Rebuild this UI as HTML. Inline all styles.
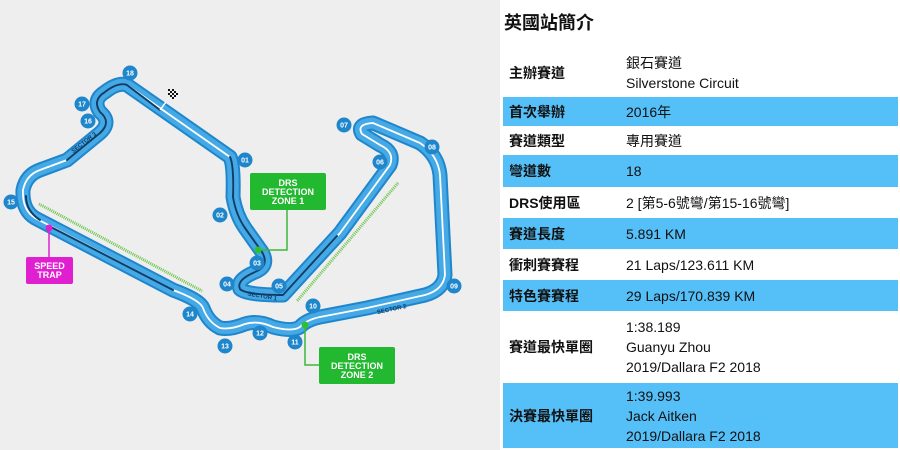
<!DOCTYPE html>
<html><head><meta charset="utf-8"><style>
body{margin:0;width:900px;height:450px;overflow:hidden;background:#fff;font-family:"Liberation Sans","Noto Sans CJK TC",sans-serif;position:relative}
#left{position:absolute;left:0;top:0;width:500px;height:450px;background:#eeeeee}
h1{position:absolute;left:504px;top:9px;margin:0;font-size:18px;font-weight:bold;color:#111}
table{position:absolute;left:503px;top:48px;width:395px;border-collapse:collapse;font-size:14px;color:#111}
td{padding:0;vertical-align:middle;line-height:20px}
td.l{width:117px;padding-left:6px;font-weight:bold}
tr.b{background:#55bff8}
</style></head><body>
<div id="left"></div>
<svg style="position:absolute;left:0;top:0" width="500" height="450">
<defs>
<path id="t" d="M127,85 L230,157 Q234,165 233,197 Q236,215 245,228 L262,252 Q270,266 255,272 Q236,280 240,289 Q246,295 283,295 L340,233 L390,165 Q395,152 380,145 L362,134 Q356,124 373,123 L420,143 Q438,155 440,175 L445,275 Q443,290 425,295 L367,308 L320,317 Q306,320 300,327 Q292,332 273,327 Q258,320 245,324 Q230,330 220,328 Q208,322 203,308 Q200,300 173,290 L35,218 Q22,210 23,190 Q26,175 40,170 L67,160 L100,133 Q112,122 100,112 Q92,100 105,92 Q118,82 127,85 Z"/>
</defs>
<g fill="none" stroke-linejoin="round" stroke-linecap="round">
<use href="#t" stroke="#1f86cc" stroke-width="15"/>
<use href="#t" stroke="#45a9e6" stroke-width="11"/>
<use href="#t" stroke="#ffffff" stroke-width="1.8"/>
<path d="M160,110 L127,85 Q118,82 105,92 Q92,100 100,112 Q112,122 100,133 L67,160" stroke="#0d3f6b" stroke-width="2"/>
<path d="M49,226 L173,290 M230,157 Q234,165 233,197 Q236,215 245,228 L262,252 Q270,266 255,272 Q236,280 240,289 Q246,295 283,295 L337,236" stroke="#0d3f6b" stroke-width="2"/>
<path d="M26,196 Q26,211 40,220" stroke="#0d3f6b" stroke-width="2"/>
</g>
<line x1="39" y1="204" x2="202" y2="291" stroke="#6cc64a" stroke-width="3" stroke-dasharray="1 1"/>
<line x1="398" y1="183" x2="297" y2="301" stroke="#6cc64a" stroke-width="3" stroke-dasharray="1 1"/>
<path d="M287,210 V250 H258" fill="none" stroke="#3cb93c" stroke-width="1.5"/>
<path d="M305,325 V365 H319" fill="none" stroke="#3cb93c" stroke-width="1.5"/>
<path d="M49,228 V257" stroke="#e020d0" stroke-width="1.5"/>
<circle cx="258" cy="250" r="3.5" fill="#2fc02f"/>
<circle cx="305" cy="325" r="3.5" fill="#2fc02f"/>
<circle cx="49" cy="228" r="3.5" fill="#e020d0"/>
<rect x="250" y="173" width="76" height="37" rx="2" fill="#22b830"/>
<text x="288" y="186" font-size="9" font-weight="bold" fill="#fff" text-anchor="middle" font-family="Liberation Sans">DRS</text>
<text x="288" y="195" font-size="9" font-weight="bold" fill="#fff" text-anchor="middle" font-family="Liberation Sans">DETECTION</text>
<text x="288" y="204" font-size="9" font-weight="bold" fill="#fff" text-anchor="middle" font-family="Liberation Sans">ZONE 1</text>
<rect x="319" y="347" width="76" height="37" rx="2" fill="#22b830"/>
<text x="357" y="360" font-size="9" font-weight="bold" fill="#fff" text-anchor="middle" font-family="Liberation Sans">DRS</text>
<text x="357" y="369" font-size="9" font-weight="bold" fill="#fff" text-anchor="middle" font-family="Liberation Sans">DETECTION</text>
<text x="357" y="378" font-size="9" font-weight="bold" fill="#fff" text-anchor="middle" font-family="Liberation Sans">ZONE 2</text>
<rect x="26" y="257" width="47" height="27" rx="2" fill="#e020d0"/>
<text x="49.5" y="269" font-size="9" font-weight="bold" fill="#fff" text-anchor="middle" font-family="Liberation Sans">SPEED</text>
<text x="49.5" y="278" font-size="9" font-weight="bold" fill="#fff" text-anchor="middle" font-family="Liberation Sans">TRAP</text>
<line x1="160" y1="110" x2="166" y2="102" stroke="#fff" stroke-width="1.5"/>
<g fill="#111"><rect x="168" y="89" width="2" height="2"/><rect x="172" y="89" width="2" height="2"/><rect x="170" y="91" width="2" height="2"/><rect x="174" y="91" width="2" height="2"/><rect x="168" y="93" width="2" height="2"/><rect x="172" y="93" width="2" height="2"/><rect x="176" y="93" width="2" height="2"/><rect x="170" y="95" width="2" height="2"/><rect x="174" y="95" width="2" height="2"/><rect x="172" y="97" width="2" height="2"/></g>
<g font-size="6" font-weight="bold" fill="#0d3f6b" font-family="Liberation Sans" text-anchor="middle">
<text transform="translate(85,144) rotate(-38)">SECTOR 3</text>
<text transform="translate(262,298) rotate(10)">SECTOR 1</text>
<text transform="translate(392,311) rotate(-12)">SECTOR 2</text>
</g>
<g font-size="7" font-weight="bold" fill="#fff" font-family="Liberation Sans" text-anchor="middle">
<g><circle cx="130" cy="73" r="7.5" fill="#1f86cc"/><text x="130" y="75.5">18</text></g>
<g><circle cx="82" cy="104" r="7.5" fill="#1f86cc"/><text x="82" y="106.5">17</text></g>
<g><circle cx="88" cy="121" r="7.5" fill="#1f86cc"/><text x="88" y="123.5">16</text></g>
<g><circle cx="11" cy="202" r="7.5" fill="#1f86cc"/><text x="11" y="204.5">15</text></g>
<g><circle cx="245" cy="160" r="7.5" fill="#1f86cc"/><text x="245" y="162.5">01</text></g>
<g><circle cx="220" cy="215" r="7.5" fill="#1f86cc"/><text x="220" y="217.5">02</text></g>
<g><circle cx="257" cy="263" r="7.5" fill="#1f86cc"/><text x="257" y="265.5">03</text></g>
<g><circle cx="227" cy="284" r="7.5" fill="#1f86cc"/><text x="227" y="286.5">04</text></g>
<g><circle cx="279" cy="286" r="7.5" fill="#1f86cc"/><text x="279" y="288.5">05</text></g>
<g><circle cx="380" cy="162" r="7.5" fill="#1f86cc"/><text x="380" y="164.5">06</text></g>
<g><circle cx="344" cy="125" r="7.5" fill="#1f86cc"/><text x="344" y="127.5">07</text></g>
<g><circle cx="432" cy="147" r="7.5" fill="#1f86cc"/><text x="432" y="149.5">08</text></g>
<g><circle cx="454" cy="286" r="7.5" fill="#1f86cc"/><text x="454" y="288.5">09</text></g>
<g><circle cx="313" cy="306" r="7.5" fill="#1f86cc"/><text x="313" y="308.5">10</text></g>
<g><circle cx="295" cy="342" r="7.5" fill="#1f86cc"/><text x="295" y="344.5">11</text></g>
<g><circle cx="260" cy="333" r="7.5" fill="#1f86cc"/><text x="260" y="335.5">12</text></g>
<g><circle cx="225" cy="346" r="7.5" fill="#1f86cc"/><text x="225" y="348.5">13</text></g>
<g><circle cx="190" cy="314" r="7.5" fill="#1f86cc"/><text x="190" y="316.5">14</text></g>
</g>
</svg>
<h1>英國站簡介</h1>
<table>
<tr style="height:49px"><td class="l">主辦賽道</td><td>銀石賽道<br>Silverstone Circuit</td></tr>
<tr class="b" style="height:29px"><td class="l">首次舉辦</td><td>2016年</td></tr>
<tr style="height:29px"><td class="l">賽道類型</td><td>專用賽道</td></tr>
<tr class="b" style="height:32px"><td class="l">彎道數</td><td>18</td></tr>
<tr style="height:31px"><td class="l">DRS使用區</td><td>2 [第5-6號彎/第15-16號彎]</td></tr>
<tr class="b" style="height:31px"><td class="l">賽道長度</td><td>5.891 KM</td></tr>
<tr style="height:31px"><td class="l">衝刺賽賽程</td><td>21 Laps/123.611 KM</td></tr>
<tr class="b" style="height:31px"><td class="l">特色賽賽程</td><td>29 Laps/170.839 KM</td></tr>
<tr style="height:72px"><td class="l">賽道最快單圈</td><td>1:38.189<br>Guanyu Zhou<br>2019/Dallara F2 2018</td></tr>
<tr class="b" style="height:65px"><td class="l">決賽最快單圈</td><td>1:39.993<br>Jack Aitken<br>2019/Dallara F2 2018</td></tr>
</table>
</body></html>
